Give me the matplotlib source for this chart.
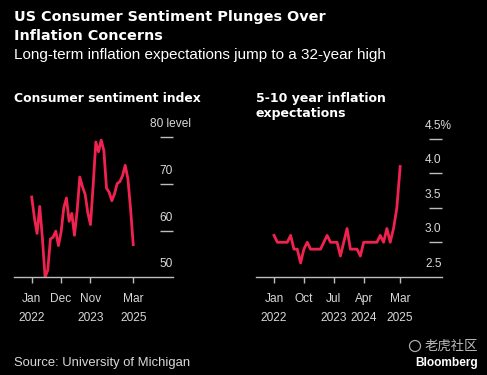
import matplotlib
matplotlib.use("Agg")
import matplotlib.pyplot as plt
import matplotlib.transforms as mtransforms
from matplotlib.patches import Ellipse
import numpy as np

# ---------------- data ----------------
# Monthly, Jan 2022 .. Mar 2025
sentiment = [67.2, 62.8, 59.4, 65.2, 58.4, 50.0, 51.5, 58.2, 58.6, 59.9, 56.8, 59.7,
             64.9, 67.0, 62.0, 63.7, 59.0, 64.2, 71.5, 69.4, 67.8, 63.8, 61.3, 69.7,
             79.0, 76.9, 79.4, 77.2, 69.1, 68.2, 66.4, 67.9, 70.1, 70.5, 71.8, 74.0,
             71.1, 64.7, 57.0]
inflation_exp = [3.1, 3.0, 3.0, 3.0, 3.0, 3.1, 2.9, 2.9, 2.7, 2.9, 3.0, 2.9,
                 2.9, 2.9, 2.9, 3.0, 3.1, 3.0, 3.0, 3.0, 2.8, 3.0, 3.2, 2.9,
                 2.9, 2.9, 2.8, 3.0, 3.0, 3.0, 3.0, 3.0, 3.1, 3.0, 3.2, 3.0,
                 3.2, 3.5, 4.1]

left_xticks = [0, 11, 22, 38]
left_xlabels = ["Jan\n2022", "Dec", "Nov\n2023", "Mar\n2025"]
left_yticks = [50, 60, 70, 80]
left_ylabels = ["50", "60", "70", "80 level"]

right_xticks = [0, 9, 18, 27, 38]
right_xlabels = ["Jan\n2022", "Oct", "Jul\n2023", "Apr\n2024", "Mar\n2025"]
right_yticks = [2.5, 3.0, 3.5, 4.0, 4.5]
right_ylabels = ["2.5", "3.0", "3.5", "4.0", "4.5%"]

title = "US Consumer Sentiment Plunges Over\nInflation Concerns"
subtitle = "Long-term inflation expectations jump to a 32-year high"
left_title = "Consumer sentiment index"
right_title = "5-10 year inflation\nexpectations"
source = "Source: University of Michigan"

# ---------------- style ----------------
W, H = 487, 375
DPI = 100
BG = "#000000"
LINE = "#f0224f"
TXT = "#d8d8d8"
AXC = "#bdbdbd"
FONT = ["Liberation Sans", "DejaVu Sans"]

plt.rcParams["font.family"] = FONT

fig = plt.figure(figsize=(W / DPI, H / DPI), dpi=DPI, facecolor=BG)


def px_axes(x0, x1, ytop, ybot):
    return fig.add_axes([x0 / W, 1 - ybot / H, (x1 - x0) / W, (ybot - ytop) / H])


def style_axes(ax, xticks, xlabels, yticks, ylabels, label_x_px, top_label_x_px):
    ax.set_facecolor(BG)
    for s in ["top", "left", "right"]:
        ax.spines[s].set_visible(False)
    ax.spines["bottom"].set_color(AXC)
    ax.spines["bottom"].set_linewidth(1.0)
    ax.set_xticks(xticks)
    ax.set_xticklabels(xlabels, linespacing=1.8)
    ax.tick_params(axis="x", colors=AXC, length=4, width=1.0, direction="out",
                   labelcolor=TXT, labelsize=8.6, pad=7.5)
    ax.yaxis.tick_right()
    ax.set_yticks(yticks[1:])
    ax.tick_params(axis="y", colors=AXC, length=9.5, width=1.0, direction="in",
                   labelright=False, labelleft=False)
    # tick labels sit above their tick marks
    bb = ax.get_position()
    trans = ax.get_yaxis_transform()
    off = mtransforms.offset_copy(trans, fig=fig, x=0, y=5, units="points")
    for i, (v, lab) in enumerate(zip(yticks, ylabels)):
        xp = top_label_x_px if i == len(yticks) - 1 else label_x_px
        xa = (xp / W - bb.x0) / bb.width
        ax.text(xa, v, lab, transform=off, ha="left", va="bottom",
                color=TXT, fontsize=8.6)


# ---------------- left panel ----------------
axL = px_axes(14, 172.5, 128, 277.3)
xL = np.arange(len(sentiment))
axL.plot(xL, sentiment, color=LINE, lw=2.0, solid_joinstyle="round")
axL.set_xlim(-6.63, 52.7)
axL.set_ylim(50, 82)
style_axes(axL, left_xticks, left_xlabels, left_yticks, left_ylabels, 159, 150)

# ---------------- right panel ----------------
axR = px_axes(256.3, 442, 130, 276.7)
xR = np.arange(len(inflation_exp))
axR.plot(xR, inflation_exp, color=LINE, lw=2.0, solid_joinstyle="round")
axR.set_xlim(-5.34, 50.6)
axR.set_ylim(2.5, 4.63)
style_axes(axR, right_xticks, right_xlabels, right_yticks, right_ylabels, 425, 425)

# ---------------- texts ----------------
fig.text(14 / W, 1 - 10 / H, title, color="white", fontsize=10.4,
         fontweight="bold", va="top", ha="left", linespacing=1.45,
         family=["DejaVu Sans"])
fig.text(14 / W, 1 - 47.5 / H, subtitle, color="white", fontsize=11.0,
         va="top", ha="left")
fig.text(14 / W, 1 - 92 / H, left_title, color="white", fontsize=8.9,
         fontweight="bold", va="top", ha="left", family=["DejaVu Sans"])
fig.text(256 / W, 1 - 92 / H, right_title, color="white", fontsize=9.0,
         fontweight="bold", va="top", ha="left", linespacing=1.25,
         family=["DejaVu Sans"])
fig.text(14 / W, 1 - 363 / H, source, color=TXT, fontsize=9.4,
         va="center", ha="left")
fig.text(478 / W, 1 - 346 / H, "老虎社区", color="#bbbbbb", fontsize=9.6,
         va="center", ha="right", family=["Noto Sans CJK SC", "DejaVu Sans"])
fig.patches.append(Ellipse((415 / W, 1 - 346 / H), 11 / W, 11 / H,
                           transform=fig.transFigure, fill=False,
                           edgecolor="#aaaaaa", lw=0.9))
fig.text(478 / W, 1 - 363 / H, "Bloomberg", color="white", fontsize=8.6,
         fontweight="bold", va="center", ha="right")

fig.savefig("out.png", dpi=DPI, facecolor=BG)
